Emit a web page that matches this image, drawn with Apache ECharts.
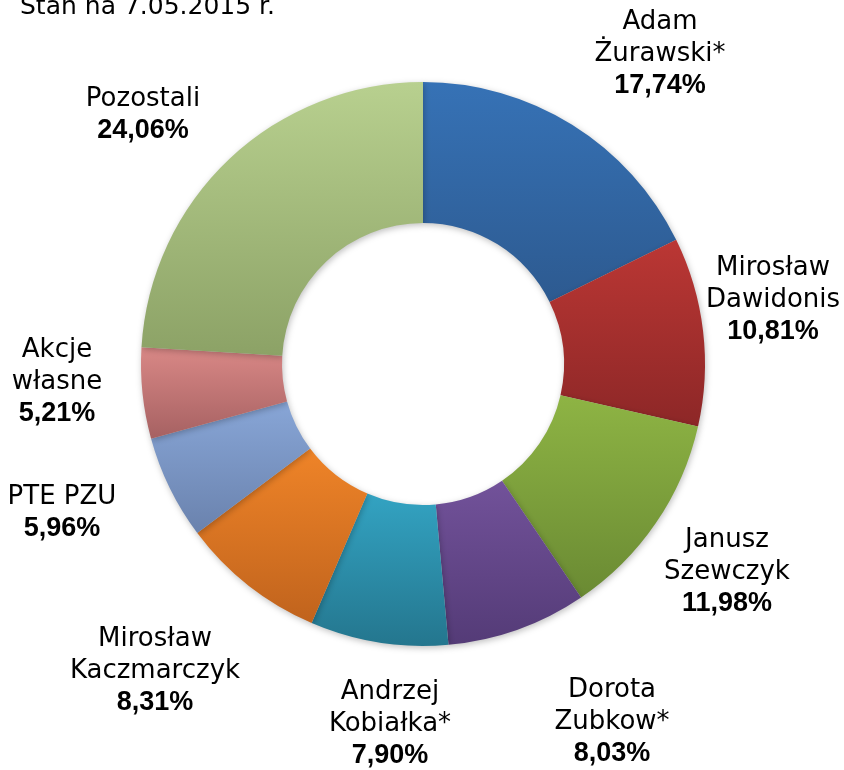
<!DOCTYPE html>
<html>
<head>
<meta charset="utf-8">
<style>
  html, body { margin: 0; padding: 0; background: #fff; }
  #chart { width: 844px; height: 770px; }
</style>
<script src="https://cdn.jsdelivr.net/npm/echarts@6/dist/echarts.min.js"></script>
</head>
<body>
<div id="chart"></div>
<script>
// shareholders and their stakes (%)
const names = ['Adam\nŻurawski*', 'Mirosław\nDawidonis', 'Janusz\nSzewczyk', 'Dorota\nZubkow*',
  'Andrzej\nKobiałka*', 'Mirosław\nKaczmarczyk', 'PTE PZU', 'Akcje\nwłasne', 'Pozostali']
const shares = [17.74, 10.81, 11.98, 8.03, 7.90, 8.31, 5.96, 5.21, 24.06]
const titleText = 'Stan na 7.05.2015 r.'

// gradient top / bottom per slice
const colorTop = ['#3672b6', '#bb3734', '#8eb444', '#72529a', '#33a3c2', '#ef8428', '#88a6d7', '#d98886', '#b8d08f']
const colorBottom = ['#2d5a90', '#8d2727', '#6a8a33', '#543b77', '#24768e', '#c0631d', '#6a82ad', '#a66162', '#8ca266']

// label centres
const labelAt = [[660, 54], [773, 300], [727, 572], [612, 722], [390, 724],
  [155, 671], [62, 513], [57, 382], [143, 115]]

const chart = echarts.init(document.getElementById('chart'))

const data = shares.map((v, i) => ({
  name: names[i],
  value: v,
  itemStyle: {
    color: {
      type: 'linear', x: 0, y: 0, x2: 0, y2: 1,
      colorStops: [{offset: 0, color: colorTop[i]}, {offset: 1, color: colorBottom[i]}]
    }
  }
}))

chart.setOption({
  animation: false,
  title: {
    text: titleText,
    left: 20,
    top: -5,
    padding: 0,
    textStyle: {
      fontFamily: 'DejaVu Sans',
      fontWeight: 'normal',
      fontSize: 25,
      color: '#000'
    }
  },
  series: [
    {
      type: 'pie',
      center: [423, 364],
      radius: [141, 282],
      startAngle: 90,
      avoidLabelOverlap: false,
      emphasis: { disabled: true },
      itemStyle: {
        shadowBlur: 6,
        shadowColor: 'rgba(0,0,0,0.25)',
        shadowOffsetX: 1,
        shadowOffsetY: 2
      },
      label: {
        show: true,
        position: 'outside',
        color: '#000',
        formatter: function(p) {
          const lines = p.name.split('\n').map(s => '{n|' + s + '}')
          return lines.join('\n') + '\n{p|' + p.value.toFixed(2).replace('.', ',') + '%}'
        },
        rich: {
          n: {
            fontFamily: 'DejaVu Sans',
            fontSize: 26,
            lineHeight: 32,
            color: '#000'
          },
          p: {
            fontFamily: 'Liberation Sans',
            fontWeight: 'bold',
            fontSize: 27,
            lineHeight: 32,
            color: '#000'
          }
        }
      },
      labelLine: { show: false },
      labelLayout: function(params) {
        const pos = labelAt[params.dataIndex]
        return { x: pos[0], y: pos[1], align: 'center', verticalAlign: 'middle' }
      },
      data: data
    }
  ]
})
</script>
</body>
</html>
